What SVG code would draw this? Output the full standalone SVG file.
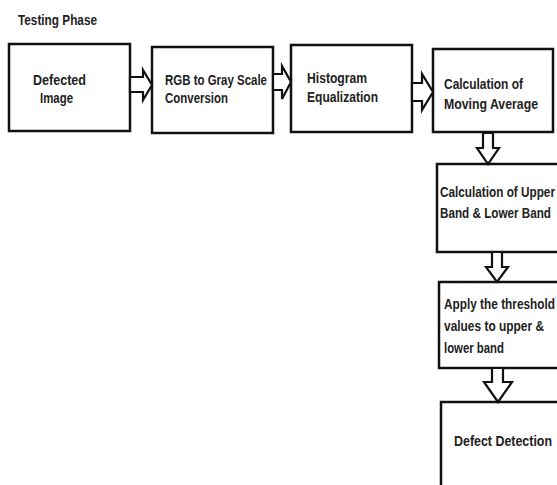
<svg xmlns="http://www.w3.org/2000/svg" width="557" height="485" viewBox="0 0 557 485">
<style>
.box{fill:#fff;stroke:#111;stroke-width:2.5}
.arr{fill:#fff;stroke:#111;stroke-width:2.2;stroke-linejoin:miter}
text{font-family:"Liberation Sans",Arial,sans-serif;font-weight:bold;font-size:15px;fill:#222}
</style>
<rect width="557" height="485" fill="#fff"/>
<text transform="translate(18,25) scale(0.8,1)" font-size="14" textLength="98.75" lengthAdjust="spacingAndGlyphs">Testing Phase</text>
<g id="n1"><rect class="box" x="9" y="44" width="121" height="87"/>
<text transform="translate(33,85) scale(0.8,1)" textLength="66.25" lengthAdjust="spacingAndGlyphs">Defected</text>
<text transform="translate(40,103) scale(0.8,1)" textLength="41.25" lengthAdjust="spacingAndGlyphs">Image</text></g>
<g id="n2"><rect class="box" x="152" y="47" width="121" height="86"/>
<text transform="translate(165,85) scale(0.8,1)" textLength="127.5" lengthAdjust="spacingAndGlyphs">RGB to Gray Scale</text>
<text transform="translate(165,103) scale(0.8,1)" textLength="78.75" lengthAdjust="spacingAndGlyphs">Conversion</text></g>
<g id="n3"><rect class="box" x="291" y="45" width="121" height="87"/>
<text transform="translate(307,83) scale(0.8,1)" textLength="75" lengthAdjust="spacingAndGlyphs">Histogram</text>
<text transform="translate(307,102) scale(0.8,1)" textLength="88.75" lengthAdjust="spacingAndGlyphs">Equalization</text></g>
<g id="n4"><rect class="box" x="433" y="49" width="120" height="83"/>
<text transform="translate(444,89) scale(0.8,1)" textLength="98.75" lengthAdjust="spacingAndGlyphs">Calculation of</text>
<text transform="translate(444,109) scale(0.8,1)" textLength="117.5" lengthAdjust="spacingAndGlyphs">Moving Average</text></g>
<g id="n5"><rect class="box" x="437" y="164" width="130" height="88"/>
<text transform="translate(440,197) scale(0.8,1)" textLength="143.75" lengthAdjust="spacingAndGlyphs">Calculation of Upper</text>
<text transform="translate(440,218) scale(0.8,1)" textLength="138.75" lengthAdjust="spacingAndGlyphs">Band &amp; Lower Band</text></g>
<g id="n6"><rect class="box" x="439" y="282" width="130" height="86"/>
<text transform="translate(444,309) scale(0.8,1)" textLength="138.75" lengthAdjust="spacingAndGlyphs">Apply the threshold</text>
<text transform="translate(444,331) scale(0.8,1)" textLength="125" lengthAdjust="spacingAndGlyphs">values to upper &amp;</text>
<text transform="translate(444,353) scale(0.8,1)" textLength="75" lengthAdjust="spacingAndGlyphs">lower band</text></g>
<g id="n7"><rect class="box" x="441" y="402" width="130" height="95"/>
<text transform="translate(454,446) scale(0.8,1)" textLength="122.5" lengthAdjust="spacingAndGlyphs">Defect Detection</text></g>
<g id="connectors">
<polygon class="arr" points="130,77 143,77 143,70 152,85 143,100 143,92 130,92"/>
<polygon class="arr" points="273,74 282,74 282,66 291,82 282,99 282,90 273,90"/>
<polygon class="arr" points="412,83 422,83 422,74 433,92 422,110 422,101 412,101"/>
<polygon class="arr" points="483,133 493,133 493,148 499,148 488,164 477,148 483,148"/>
<polygon class="arr" points="492,252 502,252 502,267 508,267 497,282 486,267 492,267"/>
<polygon class="arr" points="492,368 503,368 503,382 512,382 498,402 484,382 492,382"/>
</g>
</svg>
